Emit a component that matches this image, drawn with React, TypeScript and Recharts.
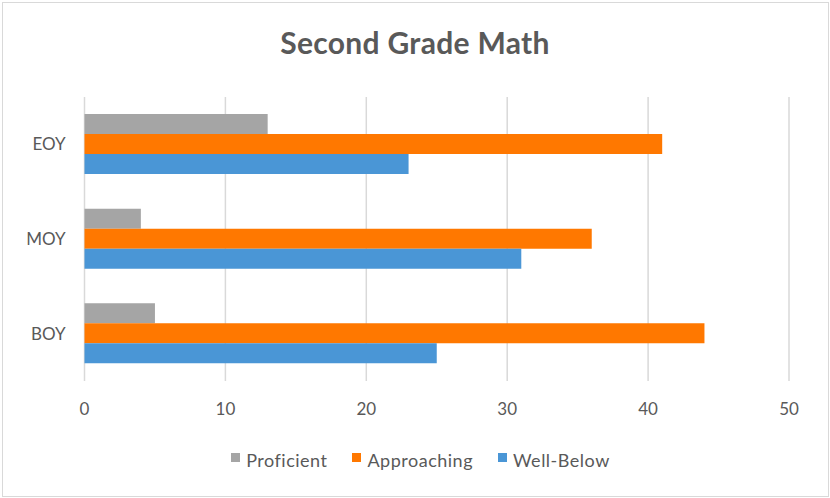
import { Bar, BarChart, CartesianGrid, Legend, XAxis, YAxis } from 'recharts';

const categories = ['EOY', 'MOY', 'BOY'];
const proficient = [13, 4, 5];
const approaching = [41, 36, 44];
const wellBelow = [23, 31, 25];
const xTicks = [0, 10, 20, 30, 40, 50];

const data = categories.map((period, i) => ({
  period,
  Proficient: proficient[i],
  Approaching: approaching[i],
  'Well-Below': wellBelow[i],
}));

const FONT = 'Lato, "Open Sans", sans-serif';
const TEXT = '#595959';

const series = [
  { key: 'Proficient', color: '#a5a5a5' },
  { key: 'Approaching', color: '#ff7800' },
  { key: 'Well-Below', color: '#4a96d6' },
];

const LegendBox = () => (
  <div
    style={{
      display: 'flex',
      justifyContent: 'center',
      gap: 25,
      fontFamily: FONT,
      fontSize: 18,
      letterSpacing: 0.5,
      color: TEXT,
      paddingLeft: 52,
    }}
  >
    {series.map((s) => (
      <div key={s.key} style={{ display: 'flex', alignItems: 'center' }}>
        <span
          style={{
            width: 9,
            height: 9,
            background: s.color,
            marginRight: 6,
            marginTop: -6,
          }}
        />
        <span>{s.key}</span>
      </div>
    ))}
  </div>
);

const App = () => {
  return (
    <div style={{ position: 'absolute', left: 0, top: 0, width: 830, height: 498, background: '#fff' }}>
      <div
        style={{
          position: 'absolute',
          left: 2,
          top: 2,
          width: 827,
          height: 495,
          border: '1px solid #d9d9d9',
          boxSizing: 'border-box',
        }}
      />
      <div
        style={{
          position: 'absolute',
          left: 0,
          top: 24,
          width: 830,
          textAlign: 'center',
          fontFamily: FONT,
          fontWeight: 700,
          fontSize: 30,
          letterSpacing: 0.3,
          color: TEXT,
        }}
      >
        Second Grade Math
      </div>
      <div style={{ position: 'absolute', left: 0, top: 0 }}>
        <BarChart
          width={830}
          height={498}
          data={data}
          layout="vertical"
          margin={{ top: 97, right: 41, bottom: 65, left: 0 }}
          barSize={20}
          barGap={0}
        >
          <CartesianGrid horizontal={false} stroke="#d9d9d9" strokeWidth={1.5} />
          <XAxis
            type="number"
            domain={[0, 50]}
            ticks={xTicks}
            axisLine={false}
            tickLine={false}
            tickSize={0}
            tickMargin={22}
            height={30}
            tick={{ fill: TEXT, fontSize: 17, fontFamily: FONT }}
          />
          <YAxis
            type="category"
            dataKey="period"
            width={84.5}
            axisLine={false}
            tickLine={false}
            tickSize={0}
            tickMargin={19}
            tick={{ fill: TEXT, fontSize: 17, fontFamily: FONT }}
          />
          <Legend verticalAlign="bottom" content={<LegendBox />} wrapperStyle={{ top: 449 }} />
          {series.map((s) => (
            <Bar key={s.key} dataKey={s.key} fill={s.color} isAnimationActive={false} />
          ))}
        </BarChart>
      </div>
    </div>
  );
};

export default App;
